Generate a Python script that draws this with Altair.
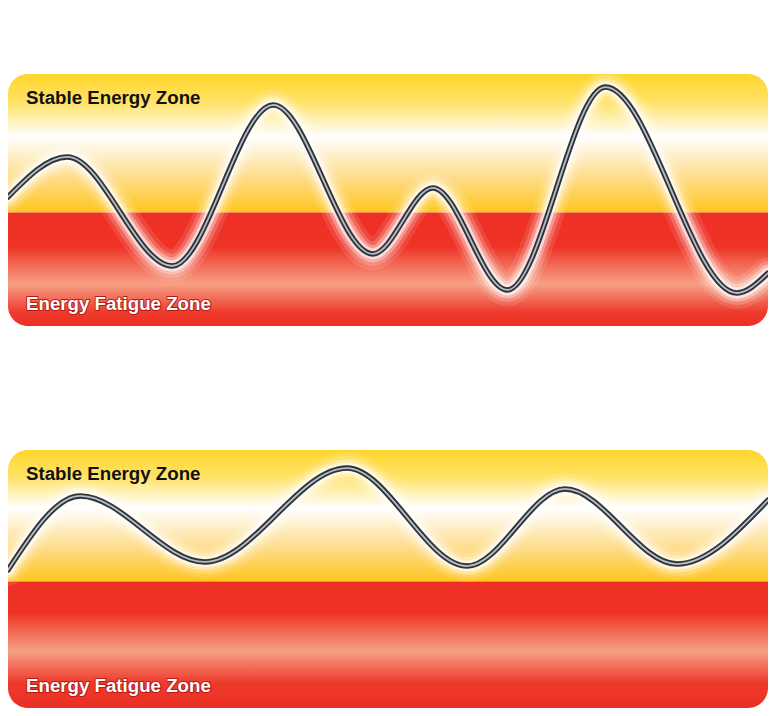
import altair as alt
import pandas as pd

# ---------------- data ----------------
# Panel 1: volatile energy (time 0-100, energy 0-100) - turning points
time_1 = [0, 7.8, 21.6, 34.9, 48.0, 55.9, 65.7, 78.6, 95.9, 100]
energy_1 = [51.2, 67.1, 23.8, 87.7, 28.6, 54.8, 14.3, 94.8, 13.1, 21.0]

# Panel 2: steady energy - turning points
time_2 = [0, 9.5, 25.9, 44.6, 60.4, 73.3, 88.0, 100]
energy_2 = [53.5, 82.2, 56.6, 93.0, 55.0, 84.9, 55.8, 80.6]

thresholds = [45, 49]
zone_labels = ["Stable Energy Zone", "Energy Fatigue Zone"]
x_domain = [0, 100]
y_domain = [0, 100]

FONT = "Liberation Sans"


def grad(stops):
    return alt.LinearGradient(
        gradient="linear", x1=0, x2=0, y1=0, y2=1,
        stops=[alt.GradientStop(offset=o, color=c) for o, c in stops],
    )


def panel(times, energy, threshold, height, stable_stops, fatigue_stops):
    X = lambda f: alt.X(f, type="quantitative", scale=alt.Scale(domain=x_domain, nice=False, zero=False), axis=None)
    Y = lambda f: alt.Y(f, type="quantitative", scale=alt.Scale(domain=y_domain, nice=False, zero=False), axis=None)

    zones = pd.DataFrame({
        "zone": ["stable", "fatigue"],
        "x0": [x_domain[0], x_domain[0]],
        "x1": [x_domain[1], x_domain[1]],
        "lo": [threshold, y_domain[0]],
        "hi": [y_domain[1], threshold],
    })
    curve = pd.DataFrame({"t": times, "e": energy})
    labels = pd.DataFrame({
        "label": zone_labels,
        "t": [x_domain[0], x_domain[0]],
        "e": [y_domain[1], y_domain[0]],
    })

    stable = alt.Chart(zones[zones.zone == "stable"]).mark_rect(
        color=grad(stable_stops), cornerRadiusTopLeft=20, cornerRadiusTopRight=20
    ).encode(x=X("x0"), x2="x1", y=Y("lo"), y2="hi")
    fatigue = alt.Chart(zones[zones.zone == "fatigue"]).mark_rect(
        color=grad(fatigue_stops), cornerRadiusBottomLeft=20, cornerRadiusBottomRight=20
    ).encode(x=X("x0"), x2="x1", y=Y("lo"), y2="hi")

    layers = [stable, fatigue]
    for w, o in [(32, 0.1), (24, 0.18), (17, 0.32), (11, 0.6)]:
        layers.append(
            alt.Chart(curve).mark_line(
                interpolate="monotone", color="white", strokeWidth=w, opacity=o,
                strokeCap="round", strokeJoin="round", clip=True
            ).encode(x=X("t"), y=Y("e"))
        )
    layers.append(
        alt.Chart(curve).mark_line(
            interpolate="monotone", color="#2f3337", strokeWidth=5.5,
            strokeCap="round", clip=True
        ).encode(x=X("t"), y=Y("e"))
    )
    layers.append(
        alt.Chart(curve).mark_line(
            interpolate="monotone", color="#b3bdc7", strokeWidth=1.8,
            strokeCap="round", clip=True
        ).encode(x=X("t"), y=Y("e"))
    )
    layers.append(
        alt.Chart(labels.iloc[[0]]).mark_text(
            font=FONT, fontWeight="bold", fontSize=18.7, color="#111111",
            align="left", baseline="alphabetic", dx=18, dy=29.5
        ).encode(x=X("t"), y=Y("e"), text="label:N")
    )
    layers.append(
        alt.Chart(labels.iloc[[1]]).mark_text(
            font=FONT, fontWeight="bold", fontSize=18.7, color="#b71c14",
            stroke="#b71c14", strokeWidth=2, strokeJoin="round",
            align="left", baseline="alphabetic", dx=18, dy=-16
        ).encode(x=X("t"), y=Y("e"), text="label:N")
    )
    layers.append(
        alt.Chart(labels.iloc[[1]]).mark_text(
            font=FONT, fontWeight="bold", fontSize=18.7, color="#ffffff",
            align="left", baseline="alphabetic", dx=18, dy=-16
        ).encode(x=X("t"), y=Y("e"), text="label:N")
    )
    return alt.layer(*layers).properties(width=760, height=height)


p1 = panel(
    time_1, energy_1, thresholds[0], 252,
    [(0, "#FFD52B"), (0.2, "#FFE265"), (0.45, "#FFFFFF"), (0.75, "#FEDC88"), (1, "#FFC51D")],
    [(0, "#EE3024"), (0.3, "#EE3326"), (0.63, "#F7A086"), (0.88, "#EE3A2C"), (1, "#EB2F23")],
)
p2 = panel(
    time_2, energy_2, thresholds[1], 258,
    [(0, "#FFD52B"), (0.2, "#FFE265"), (0.44, "#FFFFFF"), (0.75, "#FEDC88"), (1, "#FFC51D")],
    [(0, "#EE3024"), (0.25, "#EE3326"), (0.55, "#F7A086"), (0.8, "#EE3A2C"), (1, "#EB2F23")],
)

chart = alt.vconcat(p1, p2, spacing=124).properties(
    padding={"left": 0, "top": 66, "right": 0, "bottom": 0},
    background="white",
).configure_view(stroke=None)

chart.save("out.html", embed_options={"renderer": "svg", "actions": False})
